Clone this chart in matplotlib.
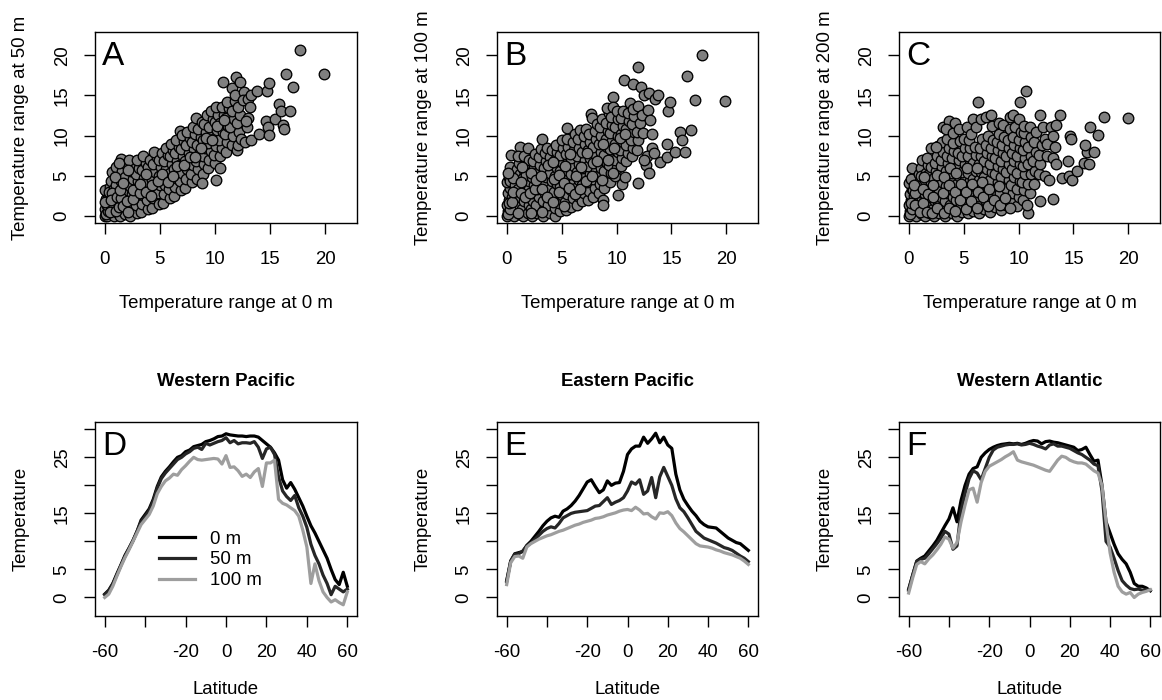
import numpy as np
import matplotlib
matplotlib.use("Agg")
import matplotlib.pyplot as plt

plt.rcParams['font.family'] = ['Liberation Sans', 'DejaVu Sans']

W, H = 1162, 700
FS = 13.4          # base text size (pt)
FS_LETTER = 24

# ---------------------------------------------------------------- data
# Temperature range at 0 m (x) vs range at depth (y)
range_50 = [
    (0.0, 0.0), (0.1, 0.4), (0.0, 0.9), (0.2, 1.5), (0.1, 2.1), (0.3, 2.7), (0.0, 3.2), (0.4, 0.2),
    (0.3, 1.1), (0.5, 3.6), (0.2, 0.0), (0.4, 1.8), (0.5, 2.4), (0.7, 5.5), (0.6, 4.4), (0.4, 3.0),
    (0.8, 0.0), (0.7, 0.8), (0.9, 1.6), (1.0, 2.6), (0.8, 3.3), (1.1, 4.1), (1.2, 5.0), (1.0, 6.1),
    (1.2, 0.4), (1.1, 1.2), (0.9, 2.0), (1.2, 2.9), (1.0, 3.8),
    (1.4, 0.0), (1.5, 0.9), (1.6, 1.9), (1.4, 2.7), (1.7, 3.5), (1.5, 4.4), (1.6, 5.6), (1.5, 7.1),
    (1.9, 6.4), (1.8, 0.3), (1.9, 1.4), (2.0, 2.4), (1.8, 4.9), (2.0, 3.2), (1.3, 6.6),
    (2.3, 0.0), (2.2, 0.8), (2.4, 1.7), (2.5, 2.7), (2.3, 3.7), (2.6, 4.6), (2.4, 5.6), (2.7, 6.3),
    (2.2, 6.9), (2.9, 0.4), (2.8, 1.3), (3.0, 2.2), (2.9, 3.3), (3.0, 4.3), (2.8, 5.2), (3.1, 6.0),
    (2.9, 7.0),
    (3.3, 0.5), (3.4, 1.5), (3.5, 2.6), (3.3, 3.7), (3.6, 4.7), (3.4, 5.7), (3.7, 6.6), (3.5, 7.4),
    (3.9, 0.9), (3.8, 2.0), (4.0, 3.1), (3.9, 4.2), (4.1, 5.3), (3.9, 6.1), (4.1, 7.0),
    (4.3, 1.0), (4.4, 2.2), (4.5, 3.4), (4.3, 4.5), (4.6, 5.5), (4.4, 6.5), (4.7, 7.3), (4.5, 7.9),
    (4.9, 1.5), (4.8, 2.8), (5.0, 3.9), (4.9, 5.0), (5.1, 6.1), (4.9, 7.0), (5.2, 7.8),
    (5.3, 1.6), (5.4, 2.7), (5.5, 3.8), (5.3, 4.9), (5.6, 5.8), (5.4, 6.8), (5.7, 7.6), (5.6, 8.5),
    (5.9, 2.2), (5.8, 3.3), (6.0, 4.4), (5.9, 5.4), (6.1, 6.5), (5.9, 7.4), (6.2, 8.2), (6.0, 9.0),
    (6.3, 2.5), (6.4, 3.6), (6.5, 4.7), (6.3, 5.8), (6.6, 6.8), (6.4, 7.8), (6.7, 8.6), (6.8, 10.6),
    (6.5, 9.4), (6.9, 3.2), (6.8, 4.3), (7.0, 5.4), (6.9, 6.5), (7.1, 7.5), (6.9, 8.3), (7.2, 9.3),
    (7.0, 10.1),
    (7.3, 3.5), (7.4, 4.6), (7.5, 5.8), (7.3, 6.8), (7.6, 7.8), (7.4, 8.8), (7.7, 9.7), (7.5, 10.5),
    (7.9, 4.2), (7.8, 5.2), (8.0, 6.3), (7.9, 7.3), (8.1, 8.3), (7.9, 9.2), (8.2, 10.2), (8.0, 11.0),
    (8.3, 12.2), (8.4, 4.6), (8.5, 5.8), (8.3, 6.8), (8.6, 7.8), (8.4, 8.8), (8.7, 9.8), (8.5, 10.8),
    (8.8, 11.7), (8.9, 5.2), (9.0, 6.4), (8.9, 7.4), (9.1, 8.5), (8.9, 9.4), (9.2, 10.5), (9.0, 11.4),
    (9.3, 12.5),
    (9.4, 5.9), (9.5, 7.0), (9.6, 8.1), (9.4, 9.1), (9.7, 10.0), (9.5, 11.0), (9.8, 12.0), (9.6, 13.1),
    (10.0, 6.6), (9.9, 7.6), (10.1, 8.7), (10.0, 9.7), (10.2, 10.7), (10.0, 11.7), (10.3, 12.6),
    (10.1, 13.5),
    (10.5, 5.9), (10.1, 4.5), (8.8, 4.1), (10.5, 7.4), (10.6, 8.5), (10.4, 9.5), (10.7, 10.5),
    (10.5, 11.5), (10.8, 12.5), (10.6, 13.6), (10.7, 16.6), (11.0, 8.0), (11.1, 9.2), (10.9, 10.2),
    (11.2, 11.2), (11.0, 12.2), (11.3, 13.4), (11.1, 14.2),
    (11.5, 8.8), (11.6, 10.0), (11.4, 11.0), (11.7, 12.0), (11.5, 13.0), (11.8, 14.3), (11.5, 15.95),
    (11.9, 17.3), (11.8, 15.0), (12.0, 8.2), (12.1, 8.8), (12.2, 10.5), (12.0, 11.5), (12.3, 12.6),
    (12.1, 13.6), (12.3, 16.6), (12.6, 15.4), (12.5, 14.4), (12.4, 9.6),
    (12.7, 9.2), (12.9, 11.1), (13.0, 12.2), (13.0, 14.6), (13.3, 15.0), (13.3, 9.4), (13.2, 13.6),
    (12.8, 11.8), (13.8, 15.5), (14.0, 10.2), (14.6, 11.8), (14.8, 11.1), (14.9, 10.1), (14.7, 15.6),
    (14.9, 16.5), (15.4, 12.1), (15.8, 13.9), (16.0, 13.0), (16.2, 11.3), (16.3, 10.8), (16.8, 13.1),
    (16.4, 17.7), (17.1, 16.1), (17.75, 20.6), (19.9, 17.6),
    (0.1, 0.2), (0.3, 0.6), (0.2, 1.3), (0.6, 1.3), (0.5, 0.5), (0.0, 1.7), (0.7, 2.9), (0.6, 2.0),
    (1.0, 0.6), (1.3, 1.1), (1.1, 2.3), (1.5, 2.2), (1.4, 3.2), (0.9, 4.9), (1.7, 1.2), (2.1, 0.5),
    (2.0, 1.9), (1.7, 4.1), (2.1, 5.7), (2.6, 2.1), (2.6, 3.2), (3.2, 2.8), (3.2, 4.0), (3.7, 3.0),
    (3.7, 5.2), (4.2, 2.5), (4.3, 3.9), (4.8, 4.3), (5.2, 5.2), (5.7, 4.2), (6.2, 5.0), (6.6, 6.2),
    (7.2, 6.3), (7.7, 7.3), (8.2, 7.3), (8.7, 8.4), (9.2, 9.7), (9.7, 9.5), (10.2, 11.2), (10.8, 11.9),
]

range_100 = [
    (0.0, 0.0), (0.1, 0.6), (0.0, 1.3), (0.2, 2.0), (0.1, 2.8), (0.3, 3.5), (0.0, 4.2), (0.2, 4.9),
    (0.4, 5.6), (0.3, 6.1), (0.4, 7.6), (0.5, 0.3), (0.4, 1.0), (0.5, 2.4), (0.3, 4.3),
    (0.7, 0.0), (0.8, 0.9), (0.7, 1.8), (0.9, 2.9), (0.8, 3.9), (1.0, 4.8), (0.9, 5.8), (1.1, 6.6),
    (1.2, 8.6), (1.0, 7.4), (1.2, 0.3), (1.1, 1.4), (1.2, 2.3), (1.0, 3.4), (1.2, 5.2),
    (1.5, 0.0), (1.4, 0.9), (1.6, 1.9), (1.5, 2.8), (1.7, 3.8), (1.5, 4.7), (1.6, 5.7), (1.8, 6.6),
    (1.6, 7.5), (1.9, 8.5), (1.9, 0.4), (2.0, 1.4), (1.9, 2.4), (2.0, 3.3), (2.0, 4.4), (1.8, 5.1),
    (2.0, 7.0),
    (2.3, 0.0), (2.2, 0.9), (2.4, 1.9), (2.3, 2.9), (2.5, 3.9), (2.3, 4.9), (2.5, 5.9), (2.4, 6.8),
    (2.6, 7.7), (2.8, 0.4), (2.7, 1.4), (2.9, 2.4), (2.8, 3.4), (3.0, 4.4), (2.8, 5.4), (3.0, 6.3),
    (2.9, 7.3), (3.1, 8.3), (3.2, 9.6),
    (3.3, 0.0), (3.4, 0.9), (3.3, 1.9), (3.5, 2.9), (3.4, 3.9), (3.6, 4.9), (3.4, 5.9), (3.6, 6.8),
    (3.5, 7.8), (3.7, 8.5), (3.9, 0.4), (3.8, 1.4), (4.0, 2.4), (3.9, 3.4), (4.1, 4.4), (3.9, 5.4),
    (4.1, 6.4), (3.9, 7.3), (4.1, 8.2), (4.4, 0.0),
    (4.4, 1.0), (4.5, 2.0), (4.3, 3.0), (4.6, 4.0), (4.4, 5.0), (4.6, 6.0), (4.4, 7.0), (4.6, 7.9),
    (4.5, 8.8), (4.9, 0.6), (4.8, 1.6), (5.0, 2.6), (4.9, 3.6), (5.1, 4.6), (4.9, 5.6), (5.1, 6.6),
    (4.9, 7.6), (5.1, 8.5), (5.0, 9.4),
    (5.4, 0.7), (5.3, 1.7), (5.5, 2.7), (5.4, 3.7), (5.6, 4.7), (5.4, 5.7), (5.6, 6.7), (5.4, 7.7),
    (5.6, 8.6), (5.5, 9.6), (5.5, 10.9), (5.9, 1.1), (6.0, 2.2), (5.9, 3.2), (6.1, 4.2), (5.9, 5.2),
    (6.1, 6.2), (5.9, 7.2), (6.1, 8.2), (6.0, 9.2), (6.2, 10.2),
    (6.4, 1.4), (6.5, 2.5), (6.3, 3.5), (6.6, 4.5), (6.4, 5.5), (6.6, 6.5), (6.4, 7.5), (6.6, 8.5),
    (6.5, 9.6), (6.7, 10.7), (6.9, 1.8), (7.0, 2.9), (6.9, 3.9), (7.1, 4.9), (6.9, 5.9), (7.1, 6.9),
    (6.9, 7.9), (7.1, 8.9), (7.0, 9.9), (7.2, 10.8),
    (7.4, 2.0), (7.5, 3.1), (7.3, 4.2), (7.6, 5.2), (7.4, 6.2), (7.6, 7.2), (7.4, 8.2), (7.6, 9.2),
    (7.5, 10.2), (7.7, 12.7), (7.8, 12.2), (7.9, 2.4), (8.0, 3.5), (7.9, 4.6), (8.1, 5.6), (7.9, 6.6),
    (8.1, 7.6), (7.9, 8.6), (8.1, 9.6), (8.0, 10.6), (8.2, 11.4),
    (8.4, 2.9), (8.5, 4.0), (8.3, 5.0), (8.6, 6.0), (8.4, 7.0), (8.6, 8.0), (8.4, 9.0), (8.6, 10.0),
    (8.5, 11.0), (8.7, 12.0), (8.8, 2.0), (8.8, 1.4), (8.9, 3.5), (9.0, 4.6), (8.9, 5.6), (9.1, 6.6),
    (8.9, 7.6), (9.1, 8.6), (9.0, 9.6), (9.2, 10.6), (9.0, 11.6), (9.3, 12.8), (9.1, 13.4),
    (9.4, 4.2), (9.5, 5.3), (9.3, 6.3), (9.6, 7.3), (9.4, 8.3), (9.6, 9.3), (9.4, 10.3), (9.6, 11.3),
    (9.5, 12.3), (9.7, 14.8), (9.7, 13.5), (9.9, 5.0), (10.0, 6.0), (9.9, 7.0), (10.1, 8.0),
    (9.9, 9.0), (10.1, 10.0), (9.9, 11.0), (10.1, 12.0), (10.0, 13.0), (10.1, 2.6), (9.7, 5.4),
    (10.4, 6.2), (10.5, 7.2), (10.3, 8.2), (10.6, 9.2), (10.4, 10.2), (10.6, 11.2), (10.4, 12.2),
    (10.6, 13.1), (10.7, 16.9), (10.5, 4.0), (10.9, 6.8), (11.0, 7.8), (10.9, 8.8), (11.1, 9.8),
    (10.9, 10.8), (11.1, 11.8), (11.0, 12.8), (11.2, 14.0), (10.8, 4.9),
    (11.4, 7.4), (11.5, 8.4), (11.3, 9.4), (11.6, 10.4), (11.4, 11.4), (11.6, 12.4), (11.5, 16.4),
    (11.5, 13.3), (11.9, 8.2), (12.0, 9.4), (11.9, 10.5), (12.1, 11.6), (11.95, 18.5), (12.2, 16.0),
    (12.0, 4.1), (12.0, 13.7), (12.3, 12.5),
    (12.5, 15.0), (12.4, 10.3), (12.7, 6.3), (13.0, 15.3), (13.0, 5.3), (12.9, 13.2), (13.05, 11.9),
    (13.2, 10.2), (13.2, 8.5), (13.5, 14.6), (13.8, 15.0), (12.8, 7.5), (13.95, 6.7), (14.6, 7.3),
    (14.6, 9.0), (14.7, 13.0), (14.9, 14.2), (15.3, 7.9), (15.8, 10.5), (16.0, 9.5), (16.2, 7.9),
    (16.8, 10.7), (16.4, 17.4), (17.1, 14.4), (17.75, 20.0), (19.9, 14.3), (12.5, 7.0), (13.4, 7.8),
    (0.1, 0.3), (0.3, 0.9), (0.2, 1.6), (0.5, 1.7), (0.6, 3.0), (0.6, 4.7), (0.1, 5.3), (1.0, 0.4),
    (1.3, 2.9), (1.3, 4.2), (1.7, 2.4), (1.4, 6.1), (2.2, 0.4), (2.1, 2.8), (2.2, 5.4), (2.6, 3.4),
    (2.7, 4.5), (3.2, 0.5), (3.2, 3.4), (3.1, 5.0), (3.7, 2.4), (3.8, 6.3), (4.2, 1.7), (4.3, 4.6),
    (4.2, 6.7), (4.8, 3.0), (4.8, 5.1), (5.2, 1.2), (5.2, 4.1), (5.3, 6.2), (5.7, 3.5), (5.8, 7.7),
    (6.2, 2.7), (6.3, 5.0), (6.7, 3.4), (6.8, 6.1), (7.2, 4.4), (7.3, 7.8), (7.8, 5.0), (8.2, 6.8),
    (8.7, 4.5), (8.8, 9.0), (9.2, 7.0), (9.8, 8.5), (10.3, 9.7), (10.8, 10.2),
]

range_200 = [
    (0.0, 0.0), (0.1, 0.6), (0.0, 1.3), (0.2, 2.0), (0.1, 2.7), (0.3, 3.4), (0.0, 4.1), (0.2, 4.6),
    (0.3, 6.0), (0.4, 0.2), (0.5, 1.0), (0.4, 1.7), (0.5, 2.5), (0.4, 3.2),
    (0.7, 0.0), (0.8, 0.8), (0.7, 1.6), (0.9, 2.5), (0.8, 3.4), (1.0, 4.3), (0.9, 5.2), (1.1, 6.0),
    (1.2, 0.3), (1.1, 1.2), (1.2, 2.1), (1.0, 3.0), (1.2, 3.9), (1.1, 5.0), (1.2, 6.9),
    (1.5, 0.0), (1.4, 0.9), (1.6, 1.8), (1.5, 2.7), (1.7, 3.6), (1.5, 4.5), (1.6, 5.4), (1.8, 6.3),
    (1.7, 7.2), (1.9, 0.4), (2.0, 1.3), (1.9, 2.3), (2.0, 3.2), (2.0, 4.2), (1.8, 5.1), (2.0, 6.1),
    (2.0, 8.5),
    (2.3, 0.0), (2.2, 0.9), (2.4, 1.8), (2.3, 2.8), (2.5, 3.7), (2.3, 4.7), (2.5, 5.6), (2.4, 6.6),
    (2.6, 7.5), (2.7, 8.7), (2.8, 0.4), (2.7, 1.3), (2.9, 2.3), (2.8, 3.2), (3.0, 4.2), (2.8, 5.2),
    (3.0, 6.1), (2.9, 7.0), (3.1, 8.0), (3.0, 9.2), (3.1, 11.1), (2.5, 8.6),
    (3.3, 0.0), (3.4, 0.9), (3.3, 1.8), (3.5, 2.8), (3.4, 3.7), (3.6, 4.7), (3.4, 5.6), (3.6, 6.6),
    (3.5, 7.5), (3.7, 8.4), (3.5, 9.6), (3.7, 11.8), (3.4, 10.8), (3.9, 0.4), (3.8, 1.4), (4.0, 2.4),
    (3.9, 3.3), (4.1, 4.3), (3.9, 5.3), (4.1, 6.3), (3.9, 7.2), (4.1, 8.1), (4.0, 9.1), (4.0, 10.3),
    (4.2, 11.6),
    (4.4, 0.0), (4.5, 1.0), (4.3, 2.0), (4.6, 3.0), (4.4, 4.0), (4.6, 5.0), (4.4, 6.0), (4.6, 6.9),
    (4.5, 7.8), (4.7, 9.3), (4.6, 10.8), (4.9, 0.5), (4.8, 1.5), (5.0, 2.5), (4.9, 3.5), (5.1, 4.5),
    (4.9, 5.5), (5.1, 6.5), (4.9, 7.4), (5.1, 8.4), (5.0, 9.6), (5.3, 11.0),
    (5.4, 0.4), (5.3, 1.4), (5.5, 2.4), (5.4, 3.4), (5.6, 4.4), (5.4, 5.4), (5.6, 6.4), (5.4, 7.4),
    (5.6, 8.4), (5.5, 9.4), (5.7, 10.2), (5.9, 0.6), (6.0, 1.6), (5.9, 2.6), (6.1, 3.6), (5.9, 4.6),
    (6.1, 5.6), (5.9, 6.6), (6.1, 7.6), (6.0, 8.6), (5.9, 12.0), (6.1, 11.1),
    (6.3, 14.2), (6.4, 0.4), (6.5, 1.5), (6.3, 2.5), (6.6, 3.5), (6.4, 4.5), (6.6, 5.5), (6.4, 6.5),
    (6.6, 7.5), (6.5, 8.5), (6.7, 9.6), (6.6, 12.1), (6.9, 0.8), (7.0, 1.8), (6.9, 2.8), (7.1, 3.8),
    (6.9, 4.8), (7.1, 5.8), (6.9, 6.8), (7.1, 7.8), (7.0, 8.8), (7.2, 10.0), (7.0, 12.3), (7.5, 12.6),
    (7.4, 0.5), (7.5, 1.5), (7.3, 2.5), (7.6, 3.5), (7.4, 4.5), (7.6, 5.5), (7.4, 6.5), (7.6, 7.5),
    (7.5, 8.5), (7.7, 9.5), (7.6, 11.2), (7.9, 1.1), (8.0, 2.2), (7.9, 3.2), (8.1, 4.2), (7.9, 5.2),
    (8.1, 6.2), (7.9, 7.2), (8.1, 8.2), (8.0, 9.2), (8.2, 10.2), (8.2, 11.5),
    (8.4, 0.7), (8.5, 1.8), (8.3, 2.8), (8.6, 3.8), (8.4, 4.8), (8.6, 5.8), (8.4, 6.8), (8.6, 7.8),
    (8.5, 8.8), (8.7, 9.8), (8.6, 11.3), (8.9, 1.4), (9.0, 2.5), (8.9, 3.5), (9.1, 4.5), (8.9, 5.5),
    (9.1, 6.5), (8.9, 7.5), (9.1, 8.5), (9.0, 9.5), (9.2, 10.8), (9.2, 12.3),
    (9.4, 1.6), (9.5, 2.8), (9.3, 3.8), (9.6, 4.8), (9.4, 5.8), (9.6, 6.8), (9.4, 7.8), (9.6, 8.8),
    (9.5, 9.8), (9.7, 11.0), (9.5, 12.6), (9.9, 1.2), (10.0, 2.4), (9.9, 3.4), (10.1, 4.4), (9.9, 5.4),
    (10.1, 6.4), (9.9, 7.4), (10.1, 8.4), (10.0, 9.5), (10.2, 10.5), (10.1, 14.2), (10.0, 12.0),
    (10.4, 2.0), (10.5, 3.2), (10.3, 4.2), (10.6, 5.2), (10.4, 6.2), (10.6, 7.2), (10.4, 8.2),
    (10.6, 9.2), (10.5, 10.3), (10.5, 11.2), (10.7, 15.5), (10.9, 0.4), (10.8, 1.4), (11.0, 2.8),
    (10.9, 4.0), (11.1, 5.2), (10.9, 6.4), (11.1, 7.4), (10.9, 8.6), (11.1, 9.8), (11.0, 11.0),
    (11.4, 4.0), (11.5, 5.6), (11.3, 6.8), (11.6, 8.0), (11.4, 9.2), (11.6, 10.5), (11.9, 5.2),
    (12.0, 6.4), (11.9, 7.6), (12.1, 8.8), (12.0, 12.5), (12.2, 11.0), (12.4, 9.6), (12.0, 1.9),
    (12.4, 5.0), (12.6, 7.4), (12.6, 9.0), (12.8, 4.5), (13.1, 2.1), (13.0, 11.0), (13.1, 10.0),
    (13.3, 8.6), (13.1, 7.2), (13.4, 6.4), (13.8, 12.6), (13.4, 11.3), (14.0, 4.7), (14.5, 6.8),
    (14.6, 5.0), (14.7, 9.9), (14.8, 9.6), (14.9, 4.5), (15.3, 5.6), (16.0, 6.6), (16.2, 8.0),
    (16.05, 8.8), (16.4, 6.4), (16.5, 11.1), (16.9, 7.9), (17.2, 10.1), (17.8, 12.3), (19.95, 12.2),
    (0.1, 0.3), (0.3, 0.9), (0.2, 1.6), (0.6, 1.3), (0.6, 2.9), (0.5, 3.8), (1.0, 0.5), (1.3, 1.6),
    (1.3, 3.4), (1.4, 4.9), (1.7, 0.5), (1.8, 2.7), (2.1, 0.4), (2.2, 2.3), (2.2, 3.8), (2.6, 1.0),
    (2.6, 5.1), (3.2, 0.4), (3.1, 2.8), (3.2, 4.8), (3.7, 1.0), (3.7, 3.8), (3.8, 6.0), (4.2, 0.6),
    (4.2, 3.0), (4.3, 5.4), (4.7, 2.0), (4.8, 4.0), (5.2, 0.9), (5.2, 3.0), (5.3, 6.0), (5.7, 1.9),
    (5.8, 4.0), (6.2, 1.0), (6.3, 3.0), (6.2, 5.9), (6.8, 2.3), (6.7, 4.2), (7.2, 1.2), (7.3, 3.3),
    (7.8, 2.0), (8.3, 1.3), (8.2, 3.7), (8.8, 2.2), (9.2, 1.0),
]

scatter_depths = ["50 m", "100 m", "200 m"]
scatter_letters = ["A", "B", "C"]

# Mean temperature by latitude (every 2 degrees) at 0, 50 and 100 m
latitude = list(range(-60, 61, 2))

wpac_0 = [0.6, 1.3, 2.5, 4.2, 5.8, 7.5, 8.8, 10.2, 11.8, 13.8, 14.8, 15.8, 17.5, 19.8, 21.5, 22.5,
          23.3, 24.2, 25.0, 25.3, 26.0, 26.3, 26.9, 27.1, 27.3, 27.8, 28.0, 28.3, 28.7, 28.8, 29.2,
          29.0, 28.9, 28.8, 28.8, 28.7, 28.8, 28.8, 28.6, 28.0, 27.4, 26.8, 25.8, 24.5, 21.0, 19.5,
          20.5, 19.3, 17.8, 16.3, 14.5, 12.8, 11.5, 10.0, 8.5, 7.0, 5.0, 3.2, 2.3, 4.5, 2.0]
wpac_50 = [0.5, 1.2, 2.4, 4.0, 5.7, 7.3, 8.7, 10.1, 11.8, 13.5, 14.5, 15.5, 17.2, 19.5, 21.2, 22.2,
           23.0, 23.8, 24.6, 25.0, 25.6, 26.0, 26.6, 26.8, 26.4, 27.5, 27.2, 27.5, 27.8, 28.0, 28.5,
           27.6, 28.0, 27.4, 27.6, 27.6, 27.5, 27.8, 26.8, 24.8, 26.5, 26.8, 25.5, 21.5, 19.0, 18.0,
           17.3, 18.2, 16.0, 14.5, 12.5, 9.5, 7.5, 6.0, 4.0, 2.5, 0.5, 2.0, 1.5, 1.0, 1.5]
wpac_100 = [0.0, 0.6, 2.0, 3.8, 5.5, 7.1, 8.5, 10.0, 11.5, 13.0, 13.9, 14.8, 16.3, 18.5, 19.8, 20.8,
            21.3, 22.0, 21.8, 22.8, 23.5, 24.3, 25.0, 24.6, 24.5, 24.6, 24.7, 24.8, 24.7, 23.8, 25.3,
            23.2, 23.3, 22.6, 21.6, 22.0, 21.4, 22.4, 23.0, 19.8, 24.0, 24.0, 24.5, 17.5, 16.8, 16.5,
            16.0, 15.5, 14.5, 12.0, 9.0, 2.5, 6.0, 3.0, 1.0, 0.0, -0.8, -0.4, -0.9, -1.3, 1.0]

epac_0 = [3.0, 6.5, 7.8, 8.0, 8.2, 9.3, 10.0, 10.9, 11.8, 12.8, 13.6, 14.2, 14.5, 14.3, 15.4, 15.8,
          16.4, 17.2, 18.2, 19.4, 20.6, 21.0, 19.8, 18.7, 19.2, 20.8, 20.0, 20.4, 20.5, 22.5, 25.5,
          26.5, 27.0, 27.0, 28.6, 27.5, 28.3, 29.3, 27.6, 28.6, 27.2, 26.6, 22.0, 19.2, 17.5, 16.4,
          15.4, 14.6, 13.6, 13.0, 12.6, 12.5, 12.4, 11.8, 11.2, 10.6, 10.2, 9.8, 9.6, 9.0, 8.4]
epac_50 = [2.8, 6.5, 7.7, 7.8, 8.3, 9.2, 9.7, 10.4, 11.1, 11.8, 12.3, 12.6, 12.4, 13.2, 14.2, 14.6,
           15.0, 15.2, 15.3, 15.4, 15.5, 15.9, 16.3, 16.4, 17.1, 17.8, 16.6, 17.0, 17.3, 17.8, 19.0,
           20.6, 20.2, 21.0, 18.4, 19.0, 21.4, 17.8, 21.5, 23.2, 21.6, 20.0, 17.6, 16.0, 15.3, 14.2,
           13.0, 11.8, 11.2, 10.6, 10.3, 10.0, 9.7, 9.3, 8.9, 8.7, 8.4, 7.9, 7.4, 7.0, 6.4]
epac_100 = [2.3, 6.2, 7.3, 7.4, 7.0, 9.0, 9.6, 10.0, 10.4, 10.7, 11.0, 11.2, 11.5, 11.8, 12.0, 12.3,
            12.6, 12.9, 13.1, 13.4, 13.6, 13.8, 14.1, 14.2, 14.4, 14.7, 14.9, 15.1, 15.4, 15.6, 15.7,
            15.5, 16.1, 15.6, 14.9, 15.0, 14.4, 14.0, 15.1, 15.0, 15.3, 14.6, 13.3, 12.3, 11.7, 11.0,
            10.3, 9.6, 9.2, 9.1, 9.0, 8.8, 8.5, 8.3, 8.0, 7.8, 7.6, 7.3, 7.0, 6.5, 5.9]

watl_0 = [1.5, 4.0, 6.5, 7.0, 7.4, 8.3, 9.2, 10.2, 11.5, 12.8, 14.0, 16.0, 13.5, 17.3, 20.0, 22.0,
          23.0, 23.3, 25.0, 25.8, 26.4, 26.8, 27.1, 27.3, 27.4, 27.5, 27.4, 27.5, 27.3, 27.5, 27.8,
          28.0, 27.9, 27.4, 27.8, 27.9, 27.7, 27.6, 27.4, 27.2, 27.0, 26.8, 26.2, 26.4, 26.8, 25.5,
          24.3, 24.5, 20.0, 13.5, 11.5, 9.5, 7.8, 6.8, 6.0, 4.5, 2.5, 2.0, 2.0, 1.7, 1.2]
watl_50 = [1.3, 4.0, 6.4, 6.8, 7.0, 7.8, 8.7, 9.6, 10.6, 11.8, 11.3, 8.6, 9.2, 15.5, 18.5, 21.2,
           22.6, 22.2, 21.0, 23.0, 25.0, 26.3, 26.8, 27.0, 27.2, 27.3, 27.3, 27.4, 27.2, 27.3, 27.5,
           27.3, 27.0, 26.8, 26.5, 27.2, 27.4, 27.0, 27.0, 26.8, 26.6, 26.2, 25.8, 25.5, 25.0, 24.5,
           23.8, 23.5, 19.0, 10.0, 9.0, 7.0, 4.8, 3.0, 2.2, 1.6, 1.4, 1.5, 1.3, 1.4, 1.3]
watl_100 = [0.8, 3.5, 5.9, 6.4, 6.0, 6.9, 7.6, 8.5, 9.5, 10.8, 10.4, 8.8, 9.8, 13.5, 16.5, 19.2,
            19.5, 17.0, 20.5, 22.5, 23.4, 23.8, 24.2, 24.6, 25.1, 25.5, 26.0, 24.5, 24.2, 24.0, 23.8,
            23.6, 23.3, 23.0, 22.7, 22.5, 23.5, 24.5, 25.2, 25.0, 24.5, 24.2, 24.0, 24.0, 23.8, 23.2,
            22.6, 22.2, 20.0, 13.5, 8.0, 4.5, 2.0, 1.0, 0.6, 0.9, 0.0, 0.6, 0.9, 1.1, 1.4]

regions = ["Western Pacific", "Eastern Pacific", "Western Atlantic"]
region_letters = ["D", "E", "F"]
region_series = [(wpac_0, wpac_50, wpac_100), (epac_0, epac_50, epac_100), (watl_0, watl_50, watl_100)]
depth_labels = ["0 m", "50 m", "100 m"]
depth_colors = ["#000000", "#262626", "#9e9e9e"]

# ---------------------------------------------------------------- layout (pixels)
col_left = [95, 497, 899]
col_right = [357, 758, 1160]
top_row = (32, 223)      # top, bottom
bot_row = (422, 616)


def add_axes_px(fig, left, right, top, bottom):
    return fig.add_axes([left / W, 1 - bottom / H, (right - left) / W, (bottom - top) / H])


def style_axes(ax):
    for s in ax.spines.values():
        s.set_linewidth(1.0)
    ax.tick_params(direction='out', length=8, width=1.0, labelsize=FS, pad=12)
    ax.tick_params(axis='y', pad=9.5)


def letter(ax, txt):
    ax.annotate(txt, xy=(0, 1), xycoords='axes fraction', xytext=(5, -6.6),
                textcoords='offset points', ha='left', va='top', fontsize=FS_LETTER)


fig = plt.figure(figsize=(W / 100, H / 100), dpi=100)

# ---------------------------------------------------------------- scatter row
scatter_sets = [range_50, range_100, range_200]
for i in range(3):
    ax = add_axes_px(fig, col_left[i], col_right[i], *top_row)
    pts = np.array(scatter_sets[i])
    ax.scatter(pts[:, 0], pts[:, 1], s=58, facecolor='#7f7f7f', edgecolor='black',
               linewidths=0.95, zorder=2)
    ax.set_xlim(-0.88, 22.88)
    ax.set_ylim(-0.88, 22.88)
    ticks = [0, 5, 10, 15, 20]
    ax.set_xticks(ticks, [str(t) for t in ticks])
    ax.set_yticks(ticks, [str(t) for t in ticks], rotation=90, va='center')
    style_axes(ax)
    letter(ax, scatter_letters[i])
    cx = (col_left[i] + col_right[i]) / 2
    fig.text(cx / W, 1 - 308.5 / H, "Temperature range at 0 m", ha='center', va='baseline',
             fontsize=FS)
    fig.text((col_left[i] - 74) / W, 1 - (sum(top_row) / 2) / H,
             "Temperature range at " + scatter_depths[i], rotation=90, ha='center',
             va='center', fontsize=FS)

# ---------------------------------------------------------------- latitude profiles
for i in range(3):
    ax = add_axes_px(fig, col_left[i], col_right[i], *bot_row)
    for series, lab, col in zip(region_series[i], depth_labels, depth_colors):
        ax.plot(latitude, series, color=col, lw=2.3, label=lab, solid_joinstyle='round')
    ax.set_xlim(-64.8, 64.8)
    ax.set_ylim(-3.3, 31.3)
    xt = [-60, -40, -20, 0, 20, 40, 60]
    ax.set_xticks(xt, ["-60", "", "-20", "0", "20", "40", "60"])
    yt = [0, 5, 10, 15, 20, 25, 30]
    ax.set_yticks(yt, ["0", "5", "", "15", "", "25", ""], rotation=90, va='center')
    style_axes(ax)
    letter(ax, region_letters[i])
    cx = (col_left[i] + col_right[i]) / 2
    fig.text(cx / W, 1 - 386.5 / H, regions[i], ha='center', va='baseline', fontsize=FS,
             fontweight='bold')
    fig.text(cx / W, 1 - 694.5 / H, "Latitude", ha='center', va='baseline', fontsize=FS)
    fig.text((col_left[i] - 74) / W, 1 - (sum(bot_row) / 2) / H, "Temperature",
             rotation=90, ha='center', va='center', fontsize=FS)
    if i == 0:
        ax.legend(loc='upper left', bbox_to_anchor=(0.245, 0.44), frameon=False,
                  fontsize=FS, handlelength=1.95, handletextpad=0.8, labelspacing=0.2,
                  borderpad=0, borderaxespad=0)

fig.savefig("out.png", dpi=100)
